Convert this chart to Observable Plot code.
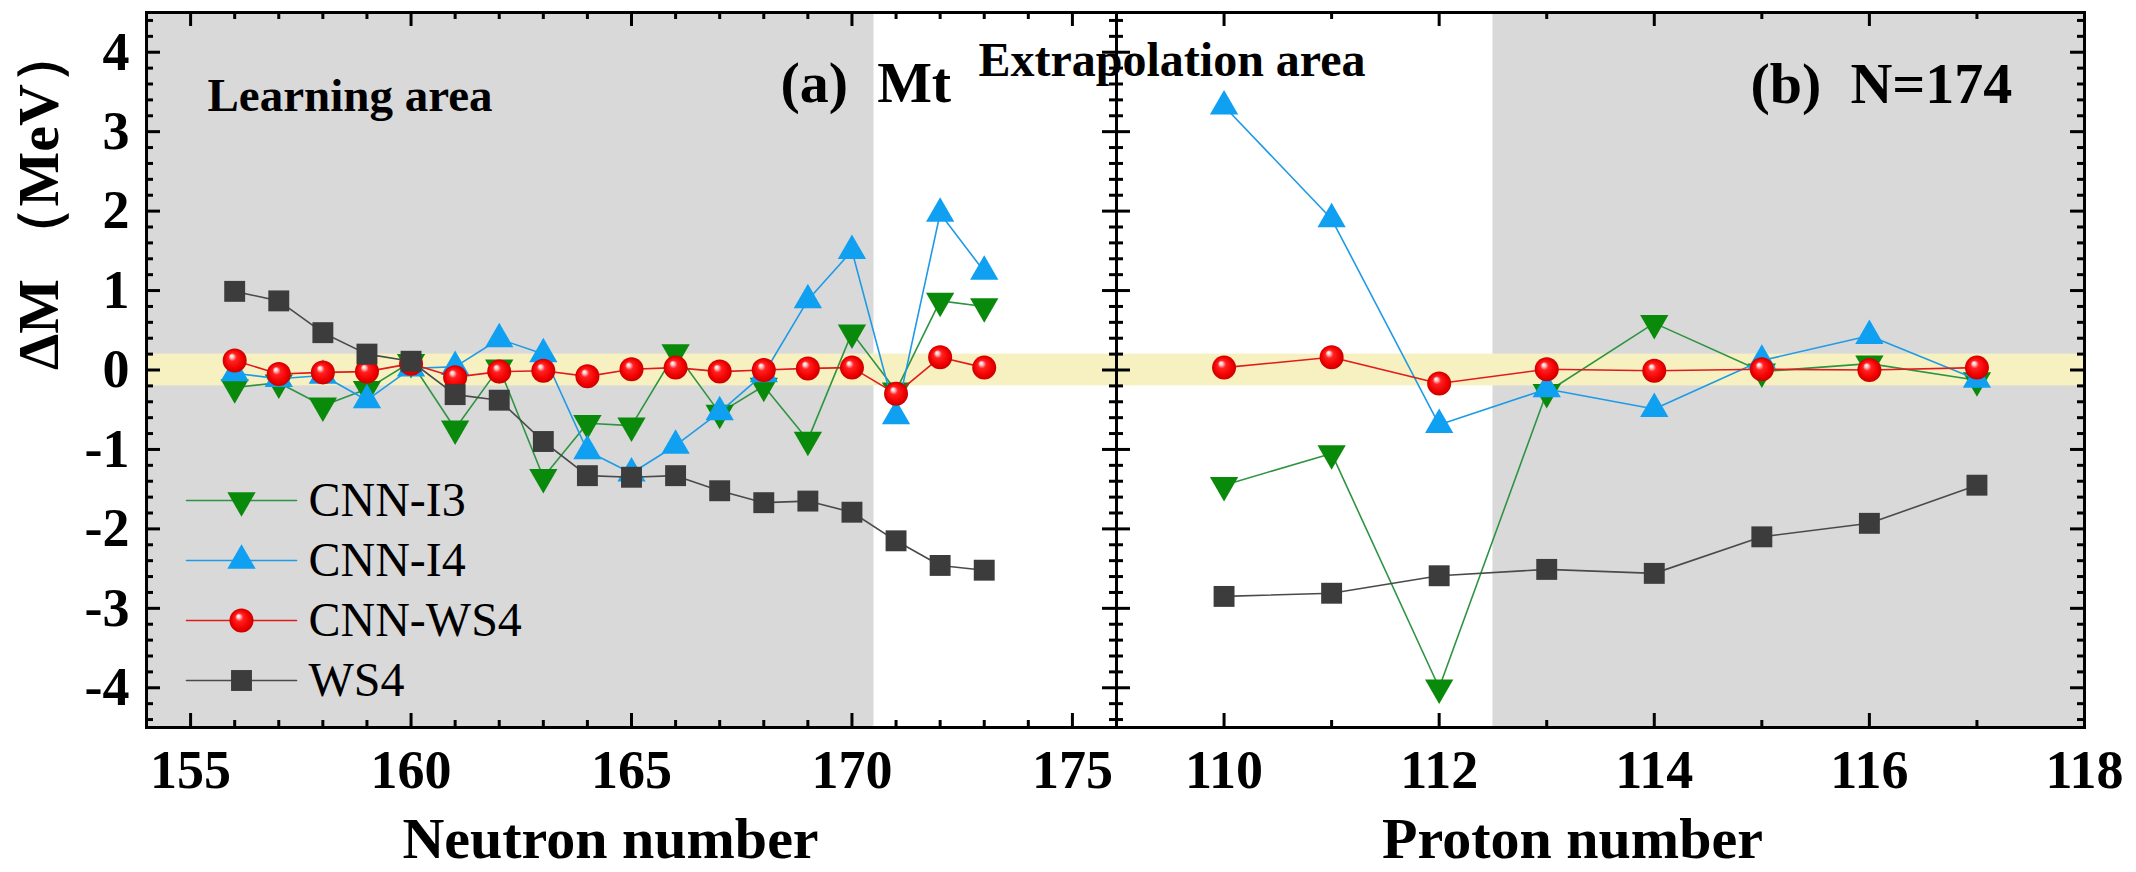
<!DOCTYPE html>
<html>
<head>
<meta charset="utf-8">
<script src="https://cdn.jsdelivr.net/npm/d3@7"></script>
<script src="https://cdn.jsdelivr.net/npm/@observablehq/plot@0.6"></script>
<style>
  body { margin: 0; background: #fff; }
  #wrap { position: relative; width: 2136px; height: 872px; overflow: hidden; background: #fff; }
  #wrap svg.panel { position: absolute; top: 0; overflow: visible; background: transparent; }
</style>
</head>
<body>
<svg width="0" height="0" style="position:absolute">
  <defs>
    <radialGradient id="sph" cx="50%" cy="50%" r="50%" fx="36%" fy="30%">
      <stop offset="0%" stop-color="#ffffff"/>
      <stop offset="14%" stop-color="#ffc8c8"/>
      <stop offset="34%" stop-color="#ff2222"/>
      <stop offset="75%" stop-color="#f20000"/>
      <stop offset="100%" stop-color="#c80000"/>
    </radialGradient>
  </defs>
</svg>
<div id="wrap"></div>
<script>
// ---------------- data ----------------
// (a) Mt isotopes, neutron number
const neutronA = [156,157,158,159,160,161,162,163,164,165,166,167,168,169,170,171,172,173];
const cnnI3A  = [-0.22,-0.16,-0.45,-0.24,0.10,-0.74,0.03,-1.35,-0.67,-0.70,0.22,-0.54,-0.20,-0.88,0.47,-0.26,0.87,0.80];
const cnnI4A  = [-0.04,-0.11,-0.07,-0.38,0.02,0.04,0.39,0.20,-1.02,-1.30,-0.95,-0.53,-0.05,0.88,1.50,-0.58,1.97,1.24];
const cnnWS4A = [0.12,-0.05,-0.03,-0.02,0.08,-0.09,-0.02,-0.01,-0.08,0.01,0.03,-0.02,0.00,0.02,0.03,-0.30,0.16,0.03];
const ws4A    = [0.99,0.87,0.47,0.20,0.11,-0.31,-0.38,-0.90,-1.33,-1.35,-1.33,-1.52,-1.67,-1.65,-1.79,-2.15,-2.46,-2.52];

// (b) N = 174 isotones, proton number
const protonB = [110,111,112,113,114,115,116,117];
const cnnI3B  = [-1.45,-1.05,-4.00,-0.28,0.59,-0.02,0.08,-0.13];
const cnnI4B  = [3.32,1.90,-0.69,-0.24,-0.49,0.12,0.43,-0.12];
const cnnWS4B = [0.03,0.16,-0.17,0.01,-0.01,0.01,0.00,0.03];
const ws4B    = [-2.85,-2.81,-2.59,-2.51,-2.56,-2.10,-1.93,-1.45];

// regions and ticks
const learnA = [154, 170.5];
const learnB = [112.5, 118];
const band = [-0.2, 0.2];
const xDomainA = [154, 176];
const xDomainB = [109, 118];
const yDomain = [-4.5, 4.5];
const xTicksA = [155, 160, 165, 170, 175];
const xMinorA = [156,157,158,159,161,162,163,164,166,167,168,169,171,172,173,174];
const xTicksB = [110, 112, 114, 116, 118];
const xMajorB = [110, 112, 114, 116];
const xMinorB = [111, 113, 115, 117];
const yTicks = [-4, -3, -2, -1, 0, 1, 2, 3, 4];
const yMinor = d3.range(-22, 23).map(k => k / 5).filter(v => !Number.isInteger(v));
const seriesNames = ["CNN-I3", "CNN-I4", "CNN-WS4", "WS4"];

// ---------------- styling ----------------
const FONT = "'Liberation Serif', 'Times New Roman', serif";
const H = 872, MT = 12, MB = 145;
const A = {left: 0, width: 1116, ml: 146, mr: 0};
const B = {left: 1116, width: 1020, ml: 0, mr: 52};
const plotH = H - MT - MB;

const triDown = {
  draw(ctx, size) {
    const s3 = Math.sqrt(3);
    const y = Math.sqrt(size / (s3 * 3));
    ctx.moveTo(0, 2 * y);
    ctx.lineTo(-s3 * y, -y);
    ctx.lineTo(s3 * y, -y);
    ctx.closePath();
  }
};
const series = [
  {key: "i3", name: seriesNames[0], line: "#2e9442", fill: "#0a8a0a", symbol: triDown, r: 10.5},
  {key: "i4", name: seriesNames[1], line: "#1f9be6", fill: "#0fa0f2", symbol: "triangle", r: 10.5},
  {key: "cw", name: seriesNames[2], line: "#e11b1b", fill: "url(#sph)", symbol: "circle", r: 12},
  {key: "ws", name: seriesNames[3], line: "#4a4a4a", fill: "#3c3c3c", symbol: "square", r: 11.8}
];

const rowsA = neutronA.map((n, i) => ({n, i3: cnnI3A[i], i4: cnnI4A[i], cw: cnnWS4A[i], ws: ws4A[i]}));
const rowsB = protonB.map((n, i) => ({n, i3: cnnI3B[i], i4: cnnI4B[i], cw: cnnWS4B[i], ws: ws4B[i]}));

function seriesMarks(rows) {
  const m = [];
  for (const s of series) {
    m.push(Plot.line(rows, {x: "n", y: s.key, stroke: s.line, strokeWidth: 1.6}));
    m.push(Plot.dot(rows, {x: "n", y: s.key, symbol: s.symbol, r: s.r, fill: s.fill, stroke: "none"}));
  }
  return m;
}

function tickMarks(pw, xMajor, xMinor) {
  const k = "black", sw = 3;
  return [
    Plot.tickY(yTicks, {y: d => d, insetRight: pw - 14, stroke: k, strokeWidth: sw}),
    Plot.tickY(yMinor, {y: d => d, insetRight: pw - 7, stroke: k, strokeWidth: sw}),
    Plot.tickY(yTicks, {y: d => d, insetLeft: pw - 14, stroke: k, strokeWidth: sw}),
    Plot.tickY(yMinor, {y: d => d, insetLeft: pw - 7, stroke: k, strokeWidth: sw}),
    Plot.tickX(xMajor, {x: d => d, insetTop: plotH - 14, stroke: k, strokeWidth: sw}),
    Plot.tickX(xMinor, {x: d => d, insetTop: plotH - 7, stroke: k, strokeWidth: sw}),
    Plot.tickX(xMajor, {x: d => d, insetBottom: plotH - 14, stroke: k, strokeWidth: sw}),
    Plot.tickX(xMinor, {x: d => d, insetBottom: plotH - 7, stroke: k, strokeWidth: sw}),
    Plot.frame({stroke: k, strokeWidth: 3})
  ];
}

const svgStyle = {fontFamily: FONT, fontWeight: "bold", fontSize: "54px", background: "transparent", overflow: "visible"};

// legend placement (pixel layout inside panel a), converted to data units
const xInvA = d3.scaleLinear([A.ml, A.width - A.mr], xDomainA);
const yInv = d3.scaleLinear([MT, H - MB], [yDomain[1], yDomain[0]]);
const legendRowsPx = [500, 560, 620, 680];
function legendMarks() {
  const m = [];
  series.forEach((s, i) => {
    const y = yInv(legendRowsPx[i]);
    m.push(Plot.line([[xInvA(186), y], [xInvA(296), y]], {stroke: s.line, strokeWidth: 1.6}));
    m.push(Plot.dot([[xInvA(241), y]], {symbol: s.symbol, r: s.r, fill: s.fill, stroke: "none"}));
    m.push(Plot.text([s.name], {x: xInvA(308), y, text: d => d, textAnchor: "start", lineAnchor: "middle",
      fontSize: 48, fontWeight: "normal"}));
  });
  return m;
}

// ---------------- panel (a) ----------------
const pwA = A.width - A.ml - A.mr;
const plotA = Plot.plot({
  width: A.width, height: H,
  marginTop: MT, marginBottom: MB, marginLeft: A.ml, marginRight: A.mr,
  x: {domain: xDomainA, label: null},
  y: {domain: yDomain, label: null},
  style: svgStyle,
  marks: [
    Plot.rect([learnA], {x1: d => d[0], x2: d => d[1], y1: yDomain[0], y2: yDomain[1], fill: "#d9d9d9"}),
    Plot.rect([band], {x1: xDomainA[0], x2: xDomainA[1], y1: d => d[0], y2: d => d[1], fill: "#f7f1c2"}),
    ...seriesMarks(rowsA),
    ...legendMarks(),
    Plot.axisX({ticks: xTicksA, tickSize: 0, tickPadding: 22, tickFormat: d => String(d), fontSize: 54, label: null}),
    Plot.axisY({ticks: yTicks, tickSize: 0, tickPadding: 17, tickFormat: d => String(d), fontSize: 54, label: null}),
    ...tickMarks(pwA, xTicksA, xMinorA),
    Plot.text(["Learning area"], {frameAnchor: "top-left", dx: 61, dy: 98, textAnchor: "start", lineAnchor: "bottom", fontSize: 47}),
    Plot.text(["(a)\u00a0\u00a0Mt"], {frameAnchor: "top-left", dx: 634, dy: 89, textAnchor: "start", lineAnchor: "bottom", fontSize: 58}),
    Plot.text(["Extrapolation area"], {frameAnchor: "top-left", dx: 832, dy: 63, textAnchor: "start", lineAnchor: "bottom", fontSize: 48}),
    Plot.text(["Neutron number"], {frameAnchor: "bottom", dx: -21, dy: 130, lineAnchor: "bottom", fontSize: 58}),
    Plot.text(["\u0394M \uff08MeV\uff09"], {frameAnchor: "left", rotate: -90, dx: -107, lineAnchor: "middle", fontSize: 58})
  ]
});

// ---------------- panel (b) ----------------
const pwB = B.width - B.ml - B.mr;
const plotB = Plot.plot({
  width: B.width, height: H,
  marginTop: MT, marginBottom: MB, marginLeft: B.ml, marginRight: B.mr,
  x: {domain: xDomainB, label: null},
  y: {domain: yDomain, label: null, axis: null},
  style: svgStyle,
  marks: [
    Plot.rect([learnB], {x1: d => d[0], x2: d => d[1], y1: yDomain[0], y2: yDomain[1], fill: "#d9d9d9"}),
    Plot.rect([band], {x1: xDomainB[0], x2: xDomainB[1], y1: d => d[0], y2: d => d[1], fill: "#f7f1c2"}),
    ...seriesMarks(rowsB),
    Plot.axisX({ticks: xTicksB, tickSize: 0, tickPadding: 22, tickFormat: d => String(d), fontSize: 54, label: null}),
    ...tickMarks(pwB, xMajorB, xMinorB),
    Plot.text(["(b)\u00a0\u00a0N=174"], {frameAnchor: "top-left", dx: 634, dy: 90, textAnchor: "start", lineAnchor: "bottom", fontSize: 58}),
    Plot.text(["Proton number"], {frameAnchor: "bottom", dx: -28, dy: 130, lineAnchor: "bottom", fontSize: 58})
  ]
});

const wrap = document.getElementById("wrap");
for (const [svg, cfg] of [[plotA, A], [plotB, B]]) {
  svg.classList.add("panel");
  svg.style.left = cfg.left + "px";
  wrap.appendChild(svg);
}
</script>
</body>
</html>
